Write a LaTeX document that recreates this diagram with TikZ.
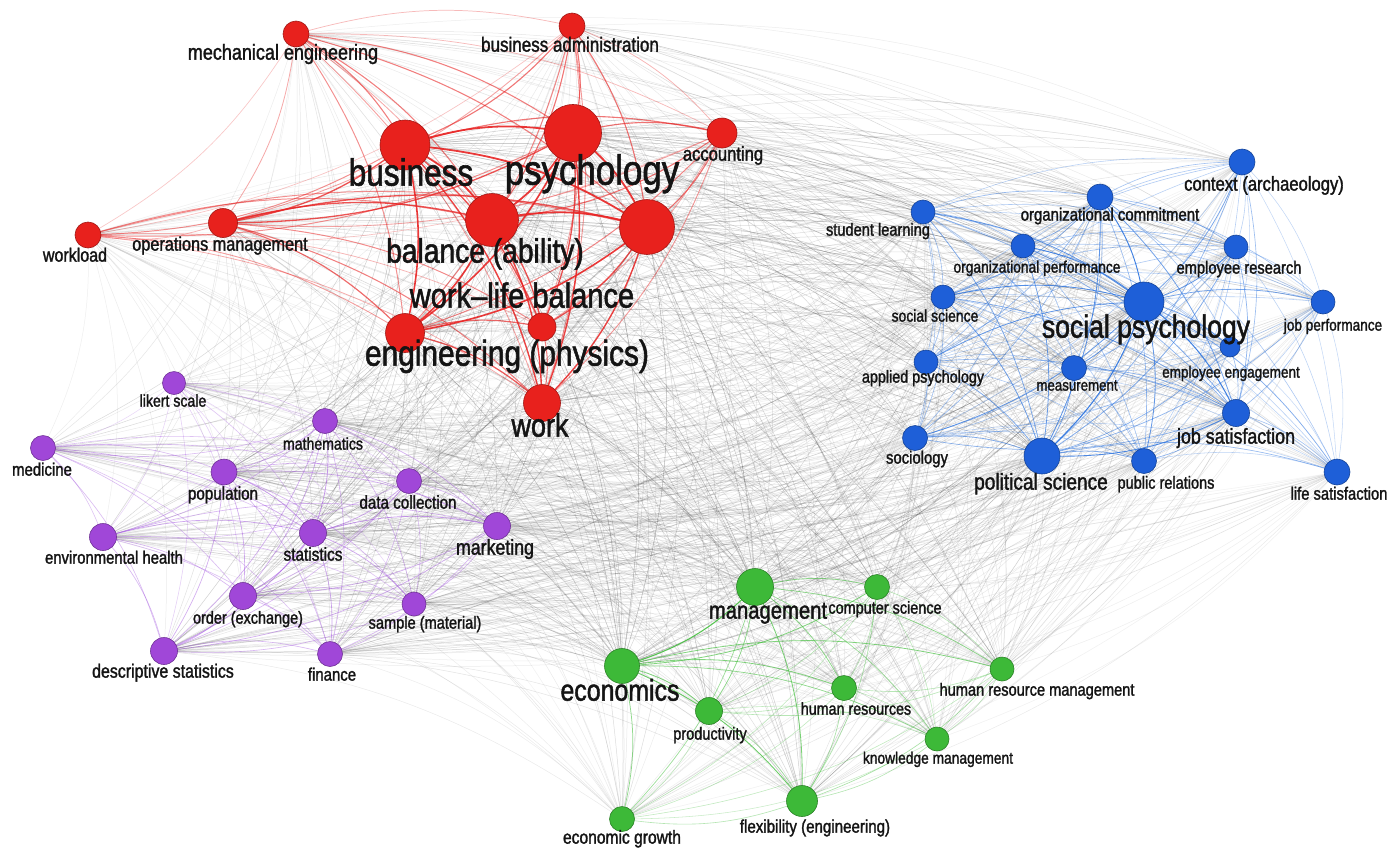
\documentclass[tikz,border=0pt]{standalone}
\usepackage{fontspec}
\setmainfont{Liberation Sans}[FakeStretch=0.83,FakeBold=1.5]
\usetikzlibrary{backgrounds,calc}
\definecolor{cred}{HTML}{E8211D}
\definecolor{cblue}{HTML}{1E5FD8}
\definecolor{cpurple}{HTML}{A047D8}
\definecolor{cgreen}{HTML}{3DB938}
\definecolor{ctext}{HTML}{141414}
\definecolor{cgray}{HTML}{444444}
\definecolor{ered}{HTML}{E82424}
\definecolor{eblue}{HTML}{2C74E0}
\definecolor{epurple}{HTML}{A458E0}
\definecolor{egreen}{HTML}{46C040}
\tikzset{
 kw/.style={circle, inner sep=0pt, minimum size=#1, line width=0.6pt},
 rn/.style={kw=#1, fill=cred, draw=cred!70!black},
 bn/.style={kw=#1, fill=cblue, draw=cblue!70!black},
 pn/.style={kw=#1, fill=cpurple, draw=cpurple!70!black},
 gn/.style={kw=#1, fill=cgreen, draw=cgreen!70!black},
 lab/.style={anchor=mid, inner sep=0pt, text=ctext, font=\fontsize{#1}{#1}\selectfont},
}
\def\redlist{mech/1.5, busadm/1.6, business/3, psych/3, acc/1.6, opm/2, workload/1.3, balance/3, wlb/3, eng/2.6, rsm/2, work/2.2}
\def\bluelist{stud/1.6, orgc/2, orgp/1.8, socsci/1.8, applied/1.6, context/1.4, empres/1.6, socpsy/3, jobperf/1.4, empeng/1.4, meas/1.6, jobsat/2.2, socio/1.6, polsci/2.5, pubrel/1.6, lifesat/1.3}
\def\purplelist{likert/1.1, math/1.8, medicine/1.5, popul/1.8, datacol/1.6, envh/1.6, stats/2.2, marketing/1.8, order/1.8, sample/1.6, descr/1.8, finance/1.6}
\def\greenlist{mgmt/2.5, comp/1.6, econ/2.8, hrm/1.6, hr/1.6, prod/1.6, km/1.4, flex/1.9, egrowth/1.4}
\newcommand\curveedge[3]{% style, from, to
  \draw[#1] (#2.center) .. controls ($(#2.center)!0.39!14:(#3.center)$) and ($(#3.center)!0.39!-14:(#2.center)$) .. (#3.center);
}
\newcommand\clusteredges[4]{% list, colour, opacity factor, width factor
  \foreach \a/\wa [count=\i] in #1 {
    \foreach \b/\wb [count=\j] in #1 {
      \ifnum\j>\i
        \pgfmathsetmacro\op{min(0.9,#3*\wa*\wb)}
        \pgfmathsetmacro\lw{0.35+#4*\wa*\wb}
        \curveedge{#2, opacity=\op, line width=\lw pt}{\a}{\b}
      \fi
    }
  }
}
\newcommand\crossedges[2]{%
  \foreach \a/\wa in #1 {
    \foreach \b/\wb in #2 {
      \pgfmathsetmacro\op{min(0.45,0.044*\wa*\wb)}
      \curveedge{cgray, opacity=\op, line width=0.5pt}{\a}{\b}
    }
  }
}
\begin{document}
\begin{tikzpicture}[x=1pt,y=-1pt]
\path[use as bounding box] (0,0) rectangle (1389,849);
% ---------- red cluster ----------
\node[rn=26] (mech) at (296,34) {};
\node[rn=26] (busadm) at (572,26) {};
\node[rn=50] (business) at (405,145) {};
\node[rn=57] (psych) at (573,133) {};
\node[rn=30] (acc) at (722,133) {};
\node[rn=29] (opm) at (223,223) {};
\node[rn=26] (workload) at (88,235) {};
\node[rn=53] (balance) at (492,220) {};
\node[rn=55] (wlb) at (647,227) {};
\node[rn=39] (eng) at (405,333) {};
\node[rn=28] (rsm) at (542,327) {};
\node[rn=37] (work) at (542,403) {};
% ---------- blue cluster ----------
\node[bn=24] (stud) at (923,212) {};
\node[bn=26] (orgc) at (1100,197) {};
\node[bn=24] (orgp) at (1023,246) {};
\node[bn=24] (socsci) at (943,297) {};
\node[bn=24] (applied) at (926,362) {};
\node[bn=26] (context) at (1242,162) {};
\node[bn=24] (empres) at (1236,247) {};
\node[bn=40] (socpsy) at (1144,302) {};
\node[bn=24] (jobperf) at (1323,302) {};
\node[bn=20] (empeng) at (1230,347) {};
\node[bn=25] (meas) at (1074,368) {};
\node[bn=27] (jobsat) at (1236,413) {};
\node[bn=25] (socio) at (915,438) {};
\node[bn=36] (polsci) at (1042,456) {};
\node[bn=25] (pubrel) at (1144,461) {};
\node[bn=26] (lifesat) at (1337,472) {};
% ---------- purple cluster ----------
\node[pn=23] (likert) at (174,383) {};
\node[pn=25] (math) at (325,421) {};
\node[pn=25] (medicine) at (43,448) {};
\node[pn=26] (popul) at (224,472) {};
\node[pn=25] (datacol) at (409,481) {};
\node[pn=27] (envh) at (103,537) {};
\node[pn=27] (stats) at (313,533) {};
\node[pn=27] (marketing) at (497,526) {};
\node[pn=27] (order) at (243,596) {};
\node[pn=24] (sample) at (414,604) {};
\node[pn=27] (descr) at (164,651) {};
\node[pn=25] (finance) at (330,654) {};
% ---------- green cluster ----------
\node[gn=37] (mgmt) at (755,587) {};
\node[gn=25] (comp) at (877,587) {};
\node[gn=35] (econ) at (622,666) {};
\node[gn=24] (hrm) at (1002,669) {};
\node[gn=25] (hr) at (844,688) {};
\node[gn=27] (prod) at (709,711) {};
\node[gn=24] (km) at (937,739) {};
\node[gn=31] (flex) at (802,801) {};
\node[gn=25] (egrowth) at (622,819) {};
% ---------- edges ----------
\begin{pgfonlayer}{background}
\fill[white] (0,0) rectangle (1389,849);
\crossedges{\redlist}{\bluelist}
\crossedges{\redlist}{\purplelist}
\crossedges{\redlist}{\greenlist}
\crossedges{\bluelist}{\purplelist}
\crossedges{\bluelist}{\greenlist}
\crossedges{\purplelist}{\greenlist}
\clusteredges{\purplelist}{epurple}{0.15}{0.1}
\clusteredges{\greenlist}{egreen}{0.15}{0.1}
\clusteredges{\bluelist}{eblue}{0.15}{0.1}
\clusteredges{\redlist}{ered}{0.13}{0.16}
\end{pgfonlayer}
% ---------- labels ----------
\node[lab=21.7] (l-mech) at (283,57) {mechanical engineering};
\node[lab=20.5] (l-busadm) at (570,49) {business administration};
\node[lab=38] (l-business) at (411,183) {business};
\node[lab=42] (l-psych) at (592,182) {psychology};
\node[lab=20] (l-acc) at (723,158) {accounting};
\node[lab=19.6] (l-opm) at (220,248) {operations management};
\node[lab=19.3] (l-workload) at (75,259) {workload};
\node[lab=34] (l-balance) at (485,260) {balance (ability)};
\node[lab=35] (l-wlb) at (522,305) {work–life balance};
\node[lab=36] (l-eng) at (507,363) {engineering (physics)};
\node[lab=32.5] (l-work) at (540,434) {work};
\node[lab=17.6] (l-stud) at (878,233) {student learning};
\node[lab=18] (l-orgc) at (1110,218) {organizational commitment};
\node[lab=16.6] (l-orgp) at (1037,270) {organizational performance};
\node[lab=16.8] (l-socsci) at (935,319) {social science};
\node[lab=17.3] (l-applied) at (923,380) {applied psychology};
\node[lab=20] (l-context) at (1264,188) {context (archaeology)};
\node[lab=17.7] (l-empres) at (1239,271) {employee research};
\node[lab=32] (l-socpsy) at (1146,335) {social psychology};
\node[lab=16.4] (l-jobperf) at (1333,328) {job performance};
\node[lab=16.3] (l-empeng) at (1231,375) {employee engagement};
\node[lab=16] (l-meas) at (1077,388) {measurement};
\node[lab=21.5] (l-jobsat) at (1236,441) {job satisfaction};
\node[lab=17.9] (l-socio) at (917,461) {sociology};
\node[lab=23] (l-polsci) at (1041,487) {political science};
\node[lab=17.5] (l-pubrel) at (1166,486) {public relations};
\node[lab=17.8] (l-lifesat) at (1339,497) {life satisfaction};
\node[lab=17] (l-likert) at (173,404) {likert scale};
\node[lab=17] (l-math) at (323,447) {mathematics};
\node[lab=18] (l-medicine) at (42,473) {medicine};
\node[lab=18.3] (l-popul) at (223,497) {population};
\node[lab=18.3] (l-datacol) at (408,506) {data collection};
\node[lab=17.9] (l-envh) at (114,561) {environmental health};
\node[lab=18.5] (l-stats) at (313,558) {statistics};
\node[lab=21.4] (l-marketing) at (495,552) {marketing};
\node[lab=17.4] (l-order) at (248,621) {order (exchange)};
\node[lab=17.6] (l-sample) at (425,626) {sample (material)};
\node[lab=19.2] (l-descr) at (163,675) {descriptive statistics};
\node[lab=18] (l-finance) at (332,678) {finance};
\node[lab=24.4] (l-mgmt) at (768,616) {management};
\node[lab=17.4] (l-comp) at (885,611) {computer science};
\node[lab=30] (l-econ) at (620,698) {economics};
\node[lab=17.6] (l-hrm) at (1037,693) {human resource management};
\node[lab=17.2] (l-hr) at (856,712) {human resources};
\node[lab=17.5] (l-prod) at (710,737) {productivity};
\node[lab=16.6] (l-km) at (938,761) {knowledge management};
\node[lab=18.2] (l-flex) at (815,830) {flexibility (engineering)};
\node[lab=18.8] (l-egrowth) at (622,841) {economic growth};
\end{tikzpicture}
\end{document}
